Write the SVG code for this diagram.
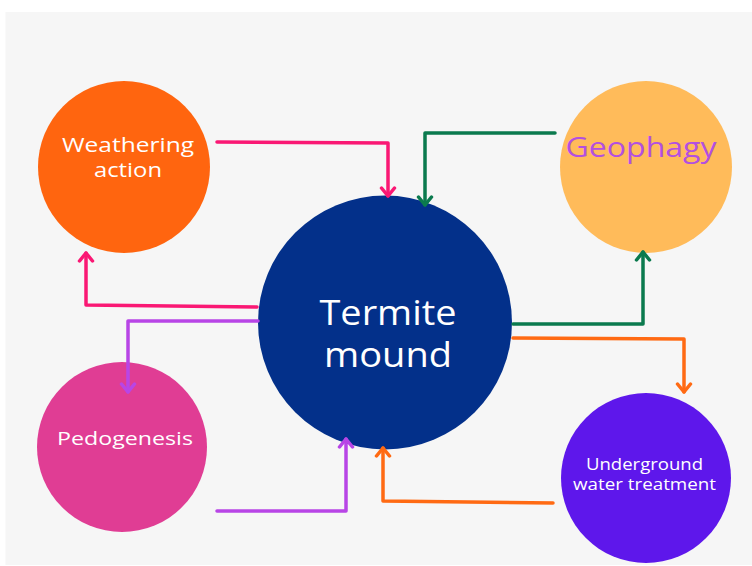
<svg xmlns="http://www.w3.org/2000/svg" width="752" height="566" viewBox="0 0 752 566">
<defs>
<style>
.lbl{font-family:"Open Sans","Liberation Sans",sans-serif;text-anchor:middle;fill:#ffffff}
.c{fill:none;stroke-width:3.5;stroke-linecap:round;stroke-linejoin:round}
.pink{stroke:#fa1874}.green{stroke:#0b7a4e}.purple{stroke:#b845e6}.orange{stroke:#ff6a13}
</style>
<marker id="ah-pink" viewBox="-10 -10 20 20" markerWidth="20" markerHeight="20" markerUnits="userSpaceOnUse" orient="auto"><path d="M-8,-6.5 L0,0 L-8,6.5" fill="none" stroke="#fa1874" stroke-width="3.5" stroke-linecap="round" stroke-linejoin="round"/></marker>
<marker id="ah-green" viewBox="-10 -10 20 20" markerWidth="20" markerHeight="20" markerUnits="userSpaceOnUse" orient="auto"><path d="M-8,-6.5 L0,0 L-8,6.5" fill="none" stroke="#0b7a4e" stroke-width="3.5" stroke-linecap="round" stroke-linejoin="round"/></marker>
<marker id="ah-purple" viewBox="-10 -10 20 20" markerWidth="20" markerHeight="20" markerUnits="userSpaceOnUse" orient="auto"><path d="M-8,-6.5 L0,0 L-8,6.5" fill="none" stroke="#b845e6" stroke-width="3.5" stroke-linecap="round" stroke-linejoin="round"/></marker>
<marker id="ah-orange" viewBox="-10 -10 20 20" markerWidth="20" markerHeight="20" markerUnits="userSpaceOnUse" orient="auto"><path d="M-8,-6.5 L0,0 L-8,6.5" fill="none" stroke="#ff6a13" stroke-width="3.5" stroke-linecap="round" stroke-linejoin="round"/></marker>
</defs>
<rect x="0" y="0" width="752" height="566" fill="#ffffff"/>
<rect x="5.5" y="12" width="746.5" height="553" fill="#f6f6f6"/>

<g id="weathering">
<circle cx="124" cy="167" r="86" fill="#ff650f"/>
<text class="lbl" x="128" y="152" font-size="20" textLength="132" lengthAdjust="spacingAndGlyphs">Weathering</text>
<text class="lbl" x="128" y="177" font-size="20" textLength="68" lengthAdjust="spacingAndGlyphs">action</text>
</g>

<g id="geophagy">
<circle cx="646" cy="167" r="86" fill="#ffbb5a"/>
<text class="lbl" x="641" y="157" font-size="28" style="fill:#b34fe0" textLength="151" lengthAdjust="spacingAndGlyphs">Geophagy</text>
</g>

<g id="termite">
<circle cx="385" cy="322.5" r="127" fill="#03308a"/>
<text class="lbl" x="388" y="325" font-size="34" textLength="137" lengthAdjust="spacingAndGlyphs">Termite</text>
<text class="lbl" x="388" y="367" font-size="34" textLength="128" lengthAdjust="spacingAndGlyphs">mound</text>
</g>

<g id="pedogenesis">
<circle cx="122" cy="447" r="85" fill="#e03d94"/>
<text class="lbl" x="125" y="445" font-size="19" textLength="136" lengthAdjust="spacingAndGlyphs">Pedogenesis</text>
</g>

<g id="underground">
<circle cx="646" cy="478" r="85" fill="#5e17eb"/>
<text class="lbl" x="644.5" y="470" font-size="15.5" textLength="117" lengthAdjust="spacingAndGlyphs">Underground</text>
<text class="lbl" x="644.5" y="490" font-size="15.5" textLength="143" lengthAdjust="spacingAndGlyphs">water treatment</text>
</g>

<g id="connectors">
<path class="c pink" d="M217,142 L388,143 L388,196" marker-end="url(#ah-pink)"/>
<path class="c green" d="M555,133 L425,133 L425,205" marker-end="url(#ah-green)"/>
<path class="c pink" d="M257,307 L86,305 L86,253" marker-end="url(#ah-pink)"/>
<path class="c purple" d="M258,321 L128,321 L128,392" marker-end="url(#ah-purple)"/>
<path class="c green" d="M513,324 L643,324 L643,252" marker-end="url(#ah-green)"/>
<path class="c orange" d="M513,338 L684,339 L684,392" marker-end="url(#ah-orange)"/>
<path class="c purple" d="M217,511 L346,511 L346,439" marker-end="url(#ah-purple)"/>
<path class="c orange" d="M553,503 L383,501 L383,448" marker-end="url(#ah-orange)"/>
</g>
</svg>
